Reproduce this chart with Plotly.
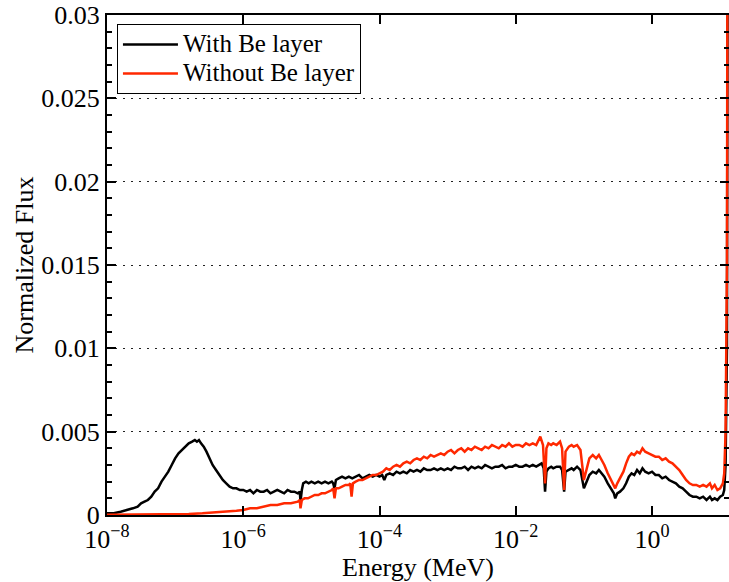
import numpy as np
import plotly.graph_objects as go

# log10(Energy / MeV) and normalized flux
log_e_with = [
    -8.00, -7.90, -7.80, -7.70, -7.62, -7.55, -7.50, -7.45, -7.40, -7.35, -7.30, -7.25,
    -7.20, -7.15, -7.10, -7.05, -7.00, -6.95, -6.90, -6.85, -6.80, -6.75, -6.71, -6.68,
    -6.65, -6.62, -6.58, -6.54, -6.50, -6.45, -6.40, -6.35, -6.30, -6.25, -6.20, -6.15,
    -6.10, -6.05, -6.00, -5.95, -5.90, -5.85, -5.80, -5.75, -5.70, -5.65, -5.60, -5.55,
    -5.50, -5.45, -5.40, -5.35, -5.30, -5.25, -5.20, -5.17, -5.16, -5.14, -5.12, -5.08,
    -5.04, -5.00, -4.95, -4.90, -4.85, -4.80, -4.75, -4.70, -4.68, -4.66, -4.64, -4.60,
    -4.55, -4.50, -4.45, -4.40, -4.35, -4.30, -4.25, -4.20, -4.15, -4.10, -4.05, -4.00,
    -3.96, -3.93, -3.90, -3.85, -3.80, -3.75, -3.70, -3.65, -3.60, -3.55, -3.50, -3.45,
    -3.40, -3.35, -3.30, -3.25, -3.20, -3.15, -3.10, -3.05,
    -3.00, -2.95, -2.90, -2.85, -2.80, -2.75, -2.70, -2.65, -2.60, -2.55, -2.50, -2.45,
    -2.40, -2.35, -2.30, -2.25, -2.20, -2.15, -2.10, -2.05, -2.00, -1.95, -1.90, -1.85,
    -1.80, -1.75, -1.70, -1.65,
    -1.62, -1.59, -1.57, -1.55, -1.52, -1.48, -1.45, -1.40, -1.35, -1.32, -1.29, -1.27,
    -1.22, -1.18, -1.15, -1.10, -1.05, -1.00, -0.96, -0.92, -0.87, -0.82, -0.78, -0.74,
    -0.70, -0.65, -0.60, -0.56, -0.54, -0.51, -0.47, -0.42, -0.38, -0.34, -0.30, -0.26,
    -0.22, -0.18, -0.14, -0.10, -0.05, 0.00, 0.05, 0.10, 0.15, 0.20, 0.25, 0.30,
    0.35, 0.40, 0.45, 0.50, 0.55, 0.60, 0.65, 0.70, 0.75, 0.80, 0.85, 0.88,
    0.92, 0.96, 1.00, 1.04, 1.06, 1.08, 1.10, 1.12]
flux_with = [
    0.0001, 0.0001, 0.0002, 0.0003, 0.0004, 0.0005, 0.0007, 0.0008, 0.0009, 0.0011, 0.0014, 0.0016,
    0.0020, 0.0023, 0.0026, 0.0030, 0.0034, 0.0037, 0.0039, 0.0041, 0.0043, 0.0044, 0.0045, 0.0044,
    0.0045, 0.0043, 0.0041, 0.0038, 0.0034, 0.0030, 0.0027, 0.0024, 0.0021, 0.0019, 0.0017, 0.0016,
    0.0016, 0.0015, 0.0015, 0.0014, 0.0015, 0.0013, 0.0015, 0.0014, 0.0014, 0.0015, 0.0013, 0.0014,
    0.0015, 0.0014, 0.0013, 0.0015, 0.0014, 0.0014, 0.0013, 0.0014, 0.0008, 0.0015, 0.0019, 0.0020,
    0.0019, 0.0020, 0.0019, 0.0020, 0.0019, 0.0020, 0.0019, 0.0020, 0.0019, 0.0016, 0.0021, 0.0022,
    0.0023, 0.0022, 0.0023, 0.0022, 0.0023, 0.0024, 0.0022, 0.0023, 0.0024, 0.0023, 0.0024, 0.0023,
    0.0024, 0.0021, 0.0024, 0.0025, 0.0024, 0.0026, 0.0025, 0.0026, 0.0025, 0.0027, 0.0026, 0.0027,
    0.0026, 0.0028, 0.0027, 0.0027, 0.0028, 0.0027, 0.0028, 0.0027,
    0.0028, 0.0027, 0.0029, 0.0028, 0.0028, 0.0029, 0.0027, 0.0029, 0.0028, 0.0029, 0.0028, 0.0030,
    0.0029, 0.0028, 0.0029, 0.0029, 0.0030, 0.0028, 0.0029, 0.0029, 0.0030, 0.0029, 0.0029, 0.0030,
    0.0029, 0.0030, 0.0029, 0.0030,
    0.0031, 0.0028, 0.0014, 0.0026, 0.0028, 0.0029, 0.0028, 0.0029, 0.0029, 0.0027, 0.0014, 0.0026,
    0.0027, 0.0028, 0.0027, 0.0029, 0.0027, 0.0016, 0.0020, 0.0024, 0.0026, 0.0025, 0.0027, 0.0025,
    0.0023, 0.0019, 0.0016, 0.0013, 0.0010, 0.0013, 0.0014, 0.0016, 0.0019, 0.0023, 0.0025, 0.0024,
    0.0027, 0.0025, 0.0028, 0.0026, 0.0025, 0.0026, 0.0024, 0.0024, 0.0022, 0.0023, 0.0021, 0.0020,
    0.0019, 0.0017, 0.0016, 0.0014, 0.0012, 0.0011, 0.0011, 0.0010, 0.0011, 0.0009, 0.0011, 0.0009,
    0.0010, 0.0009, 0.0011, 0.0012, 0.0015, 0.0030, 0.0100, 0.0600]

log_e_without = [
    -8.00, -7.50, -7.00, -6.80, -6.60, -6.40, -6.20, -6.10, -6.00, -5.90, -5.80, -5.70,
    -5.60, -5.50, -5.40, -5.30, -5.20, -5.17, -5.16, -5.14, -5.10, -5.05, -5.00, -4.95,
    -4.90, -4.85, -4.80, -4.75, -4.70, -4.68, -4.66, -4.64, -4.60, -4.55, -4.50, -4.45,
    -4.43, -4.41, -4.39, -4.35, -4.30, -4.25, -4.20, -4.15, -4.10, -4.05,
    -4.00, -3.95, -3.90, -3.85, -3.80, -3.75, -3.70, -3.65, -3.60, -3.55, -3.50, -3.45,
    -3.40, -3.35, -3.30, -3.25, -3.20, -3.15, -3.10, -3.05,
    -3.00, -2.95, -2.90, -2.85, -2.80, -2.75, -2.70, -2.65, -2.60, -2.55, -2.50, -2.45,
    -2.40, -2.35, -2.30, -2.25, -2.20, -2.15, -2.10, -2.05, -2.00, -1.95, -1.90, -1.85,
    -1.80, -1.75, -1.70,
    -1.64, -1.60, -1.57, -1.55, -1.52, -1.48, -1.45, -1.40, -1.35, -1.32, -1.29, -1.27,
    -1.22, -1.18, -1.15, -1.10, -1.05, -1.00, -0.96, -0.92, -0.87, -0.82, -0.78, -0.74,
    -0.70, -0.65, -0.60, -0.56, -0.54, -0.51, -0.47, -0.42, -0.38, -0.34, -0.30, -0.26,
    -0.22, -0.18, -0.14, -0.10, -0.05, 0.00, 0.05, 0.10, 0.15, 0.20, 0.25, 0.30,
    0.35, 0.40, 0.45, 0.50, 0.55, 0.60, 0.65, 0.70, 0.75, 0.80, 0.85, 0.88,
    0.92, 0.96, 1.00, 1.04, 1.06, 1.08, 1.10, 1.12]
flux_without = [
    0.00002, 0.00003, 0.00004, 0.00006, 0.0001, 0.00015, 0.0002, 0.00025, 0.0003, 0.0004, 0.0004, 0.0005,
    0.0006, 0.0006, 0.0007, 0.0007, 0.0008, 0.0009, 0.0004, 0.0009, 0.0010, 0.0010, 0.0011, 0.0012,
    0.0012, 0.0013, 0.0013, 0.0014, 0.0015, 0.0016, 0.0010, 0.0016, 0.0016, 0.0017, 0.0018, 0.0018,
    0.0019, 0.0011, 0.0019, 0.0020, 0.0021, 0.0021, 0.0022, 0.0023, 0.0024, 0.0024,
    0.0025, 0.0026, 0.0028, 0.0027, 0.0029, 0.0030, 0.0029, 0.0031, 0.0032, 0.0031, 0.0033, 0.0034,
    0.0033, 0.0035, 0.0034, 0.0036, 0.0035, 0.0036, 0.0037, 0.0036,
    0.0038, 0.0039, 0.0037, 0.0039, 0.0040, 0.0038, 0.0040, 0.0039, 0.0041, 0.0040, 0.0039, 0.0041,
    0.0040, 0.0042, 0.0041, 0.0040, 0.0042, 0.0041, 0.0043, 0.0041, 0.0042, 0.0042, 0.0041, 0.0043,
    0.0042, 0.0043, 0.0042,
    0.0047, 0.0042, 0.0019, 0.0040, 0.0043, 0.0042, 0.0043, 0.0042, 0.0044, 0.0040, 0.0015, 0.0038,
    0.0041, 0.0042, 0.0041, 0.0042, 0.0039, 0.0021, 0.0028, 0.0034, 0.0036, 0.0034, 0.0036, 0.0033,
    0.0030, 0.0025, 0.0021, 0.0018, 0.0016, 0.0019, 0.0022, 0.0026, 0.0031, 0.0035, 0.0037, 0.0036,
    0.0038, 0.0037, 0.0040, 0.0038, 0.0037, 0.0036, 0.0035, 0.0035, 0.0033, 0.0034, 0.0032, 0.0031,
    0.0029, 0.0027, 0.0024, 0.0021, 0.0019, 0.0018, 0.0018, 0.0017, 0.0018, 0.0017, 0.0019, 0.0016,
    0.0018, 0.0015, 0.0016, 0.0019, 0.0025, 0.0050, 0.0150, 0.0700]

assert len(log_e_with) == len(flux_with)
assert len(log_e_without) == len(flux_without)

series_names = ["With Be layer", "Without Be layer"]
x_tick_vals = [1e-8, 1e-6, 1e-4, 1e-2, 1e0]
x_tick_text = ["10<sup>\u22128</sup>", "10<sup>\u22126</sup>", "10<sup>\u22124</sup>",
               "10<sup>\u22122</sup>", "10<sup>0</sup>"]
y_tick_vals = [0, 0.005, 0.01, 0.015, 0.02, 0.025, 0.03]
y_tick_text = ["0", "0.005", "0.01", "0.015", "0.02", "0.025", "0.03"]

FONT = "Liberation Serif, Times New Roman, serif"


def legend_label(text):
    # larger glyphs than the legend's row height would give, to keep rows tight as in the reference
    return '<span style="font-size:25px">' + text + '</span>'


fig = go.Figure()
fig.add_trace(go.Scatter(x=10 ** np.array(log_e_with), y=flux_with, mode="lines",
                         name=legend_label(series_names[0]), line=dict(color="black", width=2.5)))
fig.add_trace(go.Scatter(x=10 ** np.array(log_e_without), y=flux_without, mode="lines",
                         name=legend_label(series_names[1]),
                         line=dict(color="rgb(255,40,0)", width=2.5)))

axis_common = dict(showline=True, linecolor="black", linewidth=2, ticks="inside",
                   tickcolor="black", tickwidth=2, ticklen=9, mirror="ticks",
                   tickfont=dict(family=FONT, size=26, color="black"), zeroline=False,
                   automargin=False)

fig.update_xaxes(type="log", range=[-8, 1.13], tickvals=x_tick_vals, ticktext=x_tick_text,
                 showgrid=False,
                 title=dict(text="Energy (MeV)", font=dict(family=FONT, size=26, color="black"),
                            standoff=0),
                 **axis_common)
fig.update_yaxes(range=[0, 0.03], tickvals=y_tick_vals, ticktext=y_tick_text,
                 showgrid=True, gridcolor="#222", griddash="2px,6px", gridwidth=1,
                 minor=dict(dtick=0.001, ticks="inside", ticklen=5, tickwidth=2, tickcolor="black",
                            showgrid=False),
                 title=dict(text="Normalized Flux", font=dict(family=FONT, size=26, color="black"),
                            standoff=0),
                 **axis_common)

fig.update_layout(
    width=729, height=582,
    margin=dict(l=107, r=0, t=15, b=67),
    plot_bgcolor="white", paper_bgcolor="white",
    showlegend=True,
    legend=dict(x=0.016, y=0.982, xanchor="left", yanchor="top",
                bgcolor="white", bordercolor="black", borderwidth=1,
                font=dict(family=FONT, size=20, color="black"),
                itemwidth=55, tracegroupgap=0),
)

# remove the browser's default page margin so the 729x582 figure fills the window exactly
fig.write_html("out.html", config={"displayModeBar": False},
               post_script="document.body.style.margin='0';document.body.style.overflow='hidden';")
